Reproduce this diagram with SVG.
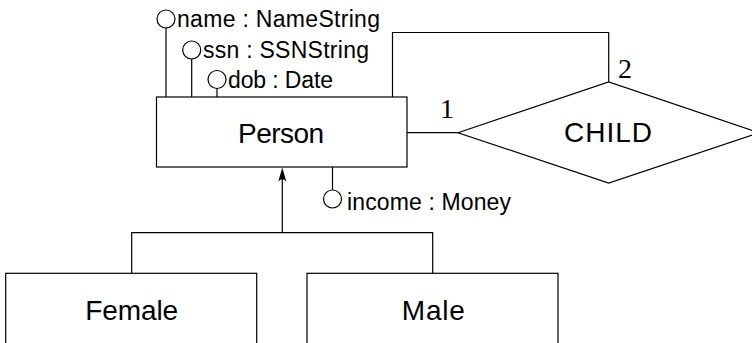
<svg xmlns="http://www.w3.org/2000/svg" width="752" height="343" viewBox="0 0 752 343">
<style>
.shape{fill:#fff;stroke:#000;stroke-width:1.2}
.line{fill:none;stroke:#000;stroke-width:1.2}
.big{font-family:"Liberation Sans",Arial,sans-serif;font-size:28px;fill:#000;text-anchor:middle}
.attr{font-family:"Liberation Sans",Arial,sans-serif;font-size:23px;fill:#000}
.num{font-family:"Liberation Serif","Times New Roman",serif;font-size:28px;fill:#000}
.circ{fill:#fff;stroke:#000;stroke-width:1.2}
</style>
<rect width="752" height="343" fill="#fff"/>
<g id="connectors">
  <line class="line" x1="166" y1="28" x2="166" y2="97"/>
  <line class="line" x1="191.7" y1="59" x2="191.7" y2="97"/>
  <line class="line" x1="217" y1="88" x2="217" y2="97"/>
  <line class="line" x1="332.5" y1="167" x2="332.5" y2="190"/>
  <polyline class="line" points="392.5,97 392.5,32.5 608.7,32.5 608.7,82"/>
  <line class="line" x1="407" y1="132.7" x2="458" y2="132.7"/>
  <polyline class="line" points="131.7,273.3 131.7,232.7 432.7,232.7 432.7,273.3"/>
  <line class="line" x1="282.3" y1="232.7" x2="282.3" y2="176"/>
  <path d="M282.3,167.5 L278.3,181.5 Q282.3,177 286.3,181.5 Z" fill="#000"/>
  <text class="num" x="440" y="117.5">1</text>
  <text class="num" x="618" y="77.5">2</text>
</g>
<g id="person">
  <rect class="shape" x="156.5" y="97" width="250.5" height="70"/>
  <text class="big" x="281" y="143" textLength="86">Person</text>
</g>
<g id="attr-name">
  <circle class="circ" cx="166" cy="19" r="9"/>
  <text class="attr" x="177" y="27" textLength="203">name : NameString</text>
</g>
<g id="attr-ssn">
  <circle class="circ" cx="191.7" cy="50" r="9"/>
  <text class="attr" x="203" y="58" textLength="166">ssn : SSNString</text>
</g>
<g id="attr-dob">
  <circle class="circ" cx="217" cy="79.5" r="9"/>
  <text class="attr" x="228" y="87.5" textLength="105">dob : Date</text>
</g>
<g id="attr-income">
  <circle class="circ" cx="332.5" cy="199" r="9"/>
  <text class="attr" x="347" y="210" textLength="164">income : Money</text>
</g>
<g id="child">
  <polygon class="shape" points="458,132.7 608.7,82 759,132.7 608.7,183"/>
  <text class="big" x="608" y="141.5" textLength="88">CHILD</text>
</g>
<g id="female">
  <rect class="shape" x="5.7" y="273.3" width="251" height="80"/>
  <text class="big" x="131.7" y="320" textLength="93">Female</text>
</g>
<g id="male">
  <rect class="shape" x="307" y="273.3" width="251" height="80"/>
  <text class="big" x="433.3" y="320" textLength="63">Male</text>
</g>
</svg>
